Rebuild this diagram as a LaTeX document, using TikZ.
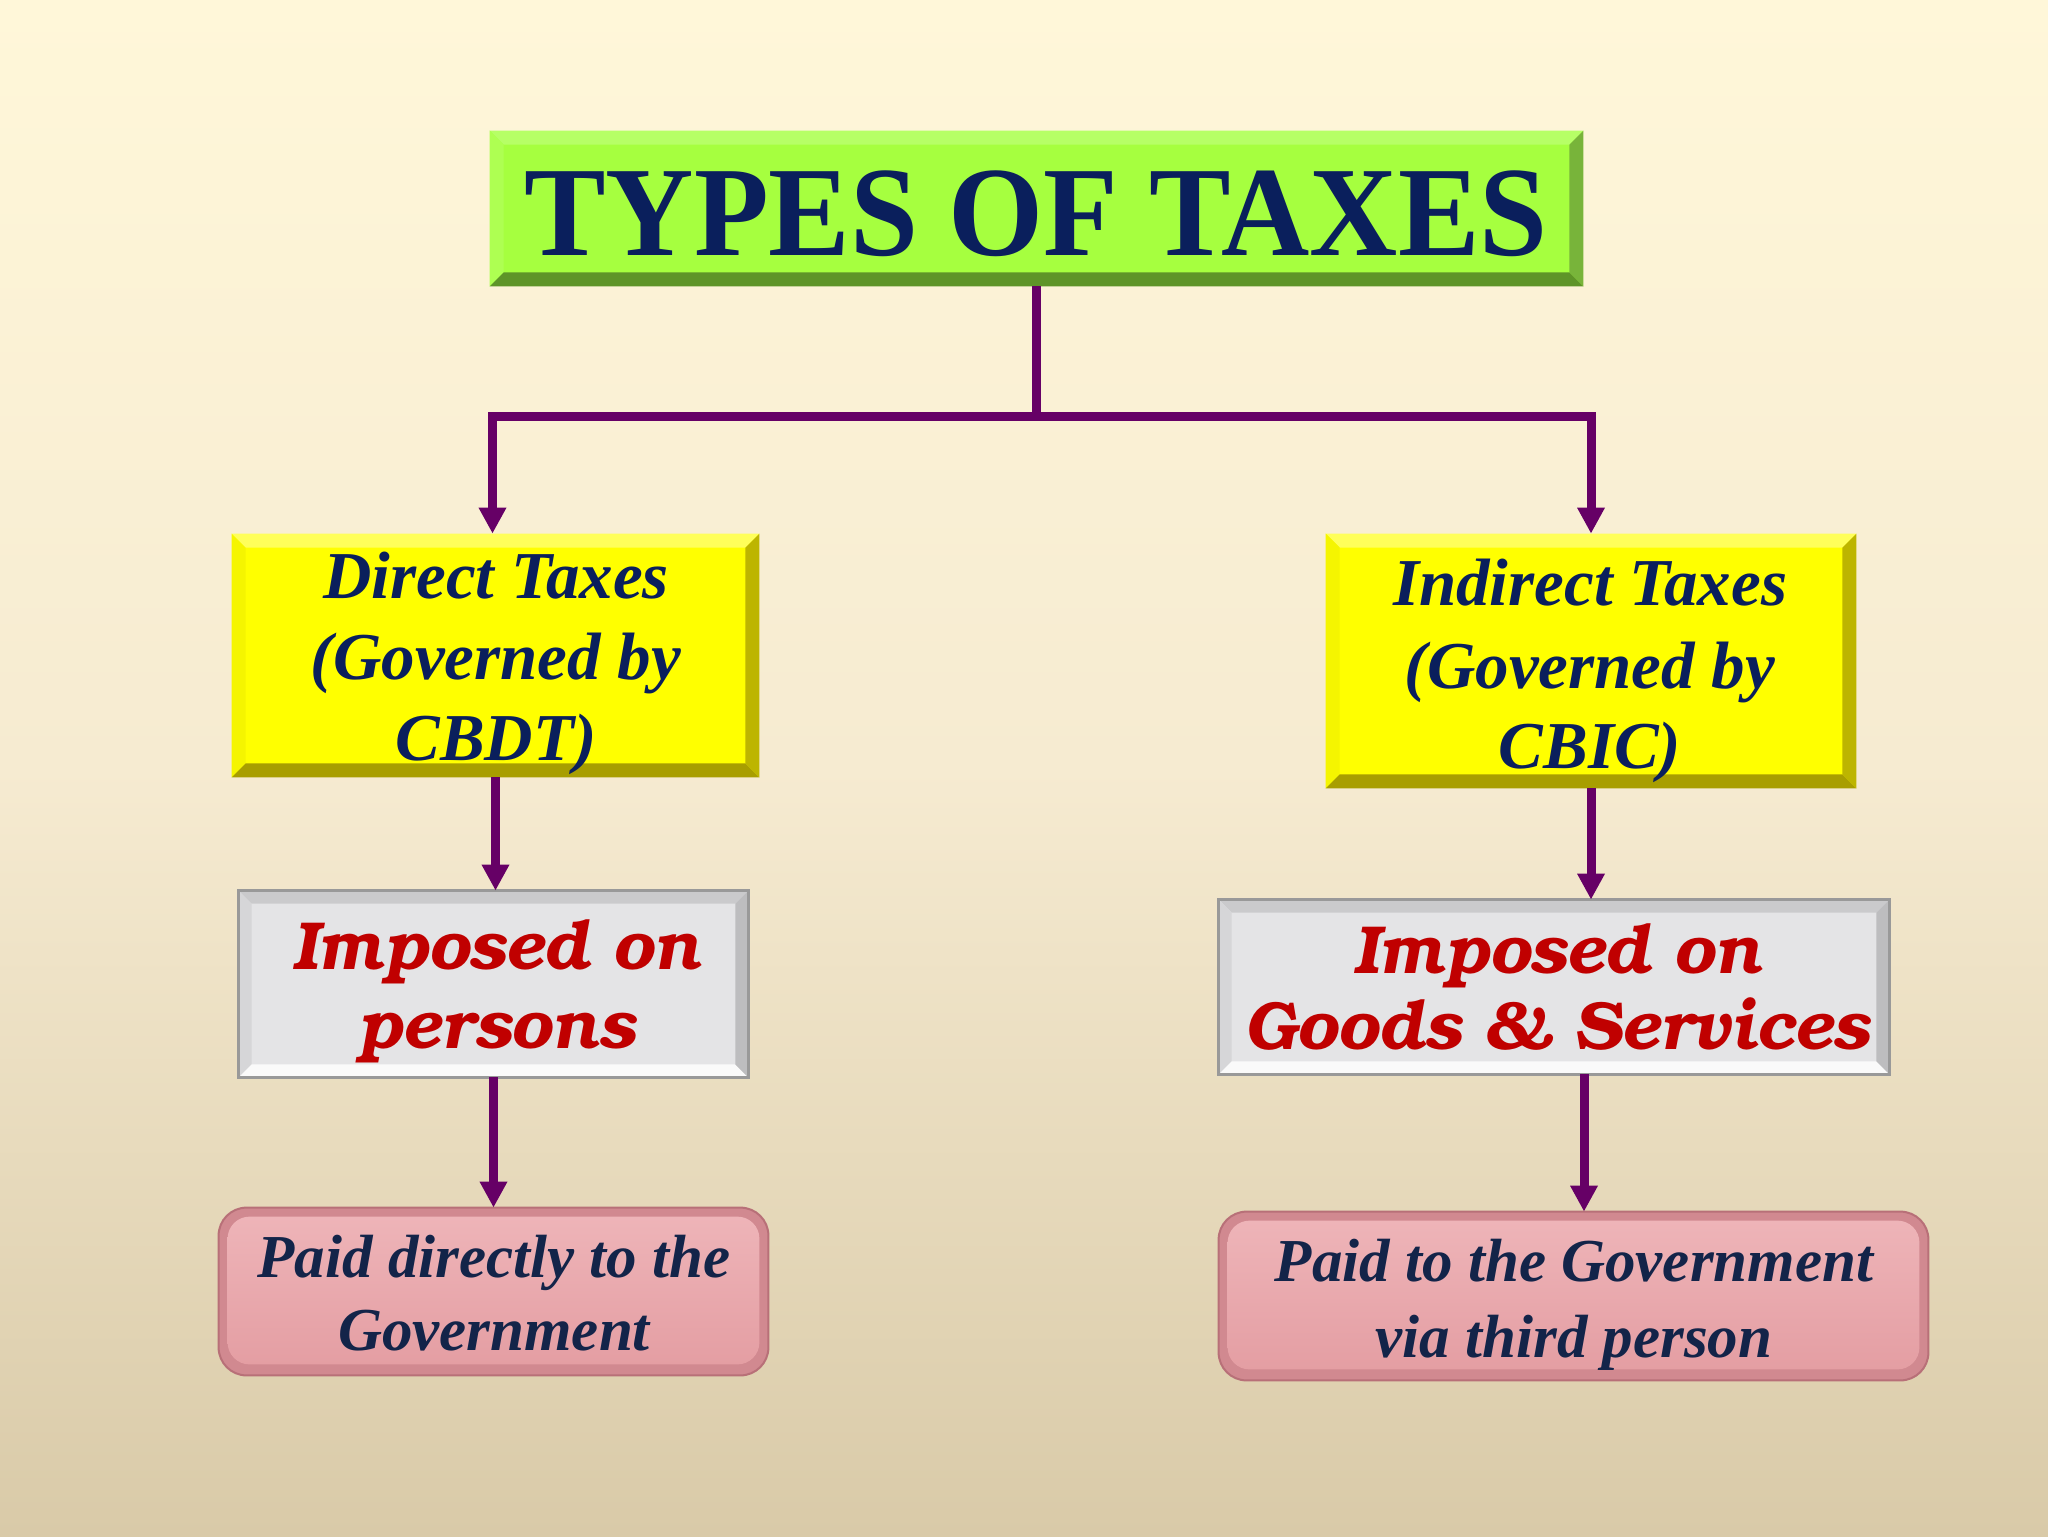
\documentclass[tikz,border=0pt]{standalone}
\usepackage[T1]{fontenc}
\usepackage{fontspec}
\setmainfont{Liberation Serif}
\newfontfamily\titlefont[FakeStretch=0.955]{Liberation Serif}
\newcommand\bookfont{\fontencoding{T1}\fontfamily{pbk}\fontseries{b}\fontshape{it}\selectfont}
\usetikzlibrary{arrows.meta,calc}
\pgfdeclarelayer{bgzero}
\pgfdeclarelayer{bgbox}
\pgfsetlayers{bgzero,bgbox,main}
\definecolor{bgtop}{HTML}{FFF7D9}
\definecolor{bgmid}{HTML}{F6EBD1}
\definecolor{bgbot}{HTML}{D9CAA8}
\definecolor{navy}{HTML}{0A1F5C}
\definecolor{navyB}{HTML}{132449}
\definecolor{redtxt}{HTML}{C00000}
\definecolor{arrowc}{HTML}{660066}
\definecolor{gface}{HTML}{A6FF3F}
\definecolor{gtop}{HTML}{B6FF66}
\definecolor{gleft}{HTML}{AEFF52}
\definecolor{gbot}{HTML}{5E9428}
\definecolor{gright}{HTML}{78B43A}
\definecolor{yface}{HTML}{FFFF00}
\definecolor{ytop}{HTML}{FFFF5A}
\definecolor{yleft}{HTML}{F5F500}
\definecolor{ybot}{HTML}{A89E00}
\definecolor{yright}{HTML}{BDB500}
\definecolor{sface}{HTML}{E4E4E6}
\definecolor{stop}{HTML}{CACACC}
\definecolor{sleft}{HTML}{D6D6D8}
\definecolor{sbot}{HTML}{FAFAFA}
\definecolor{sright}{HTML}{BDBDBF}
\definecolor{sborder}{HTML}{999999}
\definecolor{pedge}{HTML}{D18990}
\definecolor{pline}{HTML}{B87078}
\definecolor{ptop}{HTML}{EEB4B8}
\definecolor{pface}{HTML}{E49EA3}
\newcommand\bevel[6]{%
  \fill[#3] (#1.north west) -- (#1.north east) -- ($(#1.north east)+(-#2,#2)$) -- ($(#1.north west)+(#2,#2)$) -- cycle;
  \fill[#4] (#1.north west) -- ($(#1.north west)+(#2,#2)$) -- ($(#1.south west)+(#2,-#2)$) -- (#1.south west) -- cycle;
  \fill[#5] (#1.south west) -- ($(#1.south west)+(#2,-#2)$) -- ($(#1.south east)+(-#2,-#2)$) -- (#1.south east) -- cycle;
  \fill[#6] (#1.north east) -- (#1.south east) -- ($(#1.south east)+(-#2,-#2)$) -- ($(#1.north east)+(-#2,#2)$) -- cycle;
}
\newcommand\pinkbox[1]{%
  \fill[pedge, draw=pline, line width=1pt, rounded corners=14pt] (#1.north west) rectangle (#1.south east);
  \shade[top color=ptop, bottom color=pface, rounded corners=11pt] ($(#1.north west)+(9,9)$) rectangle ($(#1.south east)+(-9,-11)$);
}
\tikzset{
  boxnode/.style={draw=none, inner sep=0pt, rectangle},
  titletxt/.style={anchor=base, inner sep=0pt, text=navy, font=\titlefont\bfseries\fontsize{64}{64}\selectfont},
  headtxt/.style={anchor=base, inner sep=0pt, text=navy, font=\bfseries\itshape\fontsize{33.5}{33.5}\selectfont},
  redline/.style={anchor=base, inner sep=0pt, text=redtxt, font=\bookfont\fontsize{34}{34}\selectfont},
  paidtxt/.style={anchor=base, inner sep=0pt, text=navyB, font=\bfseries\itshape\fontsize{30.5}{30.5}\selectfont},
  arr/.style={draw=arrowc, line width=4.5pt, -{Triangle[length=13pt, width=13pt]}}
}
\begin{document}
\begin{tikzpicture}[x=0.5pt, y=-0.5pt]
\useasboundingbox (0,0) rectangle (2048,1536);
% box nodes
\node[boxnode, minimum width=546.5pt, minimum height=77.5pt] (title) at (1036.5,208.5) {};
\node[boxnode, minimum width=263.5pt, minimum height=121.5pt] (direct) at (495.5,655.5) {};
\node[boxnode, minimum width=265pt, minimum height=127pt] (indirect) at (1591,661) {};
\node[boxnode, minimum width=254.5pt, minimum height=93pt] (impL) at (493.5,984) {};
\node[boxnode, minimum width=335pt, minimum height=87pt] (impR) at (1554,987) {};
\node[boxnode, minimum width=274.5pt, minimum height=83.5pt] (paidL) at (493.5,1291.5) {};
\node[boxnode, minimum width=354.5pt, minimum height=84pt] (paidR) at (1573.5,1296) {};
% texts
\node[titletxt] (titleT) at (1036,255) {TYPES OF TAXES};
\node[headtxt] (dirA) at (496,598) {Direct Taxes};
\node[headtxt] (dirB) at (496,679) {(Governed by};
\node[headtxt] (dirC) at (496,760) {CBDT)};
\node[headtxt] (indA) at (1590,605) {Indirect Taxes};
\node[headtxt] (indB) at (1590,688) {(Governed by};
\node[headtxt] (indC) at (1590,768) {CBIC)};
\node[redline] (impLA) at (496,969) {Imposed on};
\node[redline] (impLB) at (496,1048) {persons};
\node[redline] (impRA) at (1557,973) {Imposed on};
\node[redline] (impRB) at (1557,1049) {Goods \& Services};
\node[paidtxt] (paidLA) at (494,1277) {Paid directly to the};
\node[paidtxt] (paidLB) at (494,1350) {Government};
\node[paidtxt] (paidRA) at (1574,1281) {Paid to the Government};
\node[paidtxt] (paidRB) at (1574,1357) {via third person};
% connectors
\coordinate (j) at (1036.5,416);
\draw[arr] (title.south) -- (j) -| ($(direct.north)+(-3,0)$);
\draw[arr] (j) -| (indirect.north);
\draw[arr] (direct.south) -- (direct.south |- impL.north);
\draw[arr] (impL.south) -- (impL.south |- paidL.north);
\draw[arr] (indirect.south) -- (indirect.south |- impR.north);
\draw[arr] ($(impR.south)+(30,0)$) coordinate (a5) -- (a5 |- paidR.north);
% box faces
\begin{pgfonlayer}{bgbox}
\fill[gface] (title.north west) rectangle (title.south east);
\bevel{title}{14}{gtop}{gleft}{gbot}{gright}
\fill[yface] (direct.north west) rectangle (direct.south east);
\bevel{direct}{14}{ytop}{yleft}{ybot}{yright}
\fill[yface] (indirect.north west) rectangle (indirect.south east);
\bevel{indirect}{14}{ytop}{yleft}{ybot}{yright}
\fill[sface] (impL.north west) rectangle (impL.south east);
\bevel{impL}{13}{stop}{sleft}{sbot}{sright}
\draw[sborder, line width=1.5pt] (impL.north west) rectangle (impL.south east);
\fill[sface] (impR.north west) rectangle (impR.south east);
\bevel{impR}{13}{stop}{sleft}{sbot}{sright}
\draw[sborder, line width=1.5pt] (impR.north west) rectangle (impR.south east);
\pinkbox{paidL}
\pinkbox{paidR}
\end{pgfonlayer}
\begin{pgfonlayer}{bgzero}
\shade[top color=bgtop, bottom color=bgbot, middle color=bgmid] (0,0) rectangle (2048,1536);
\end{pgfonlayer}
\end{tikzpicture}
\end{document}
